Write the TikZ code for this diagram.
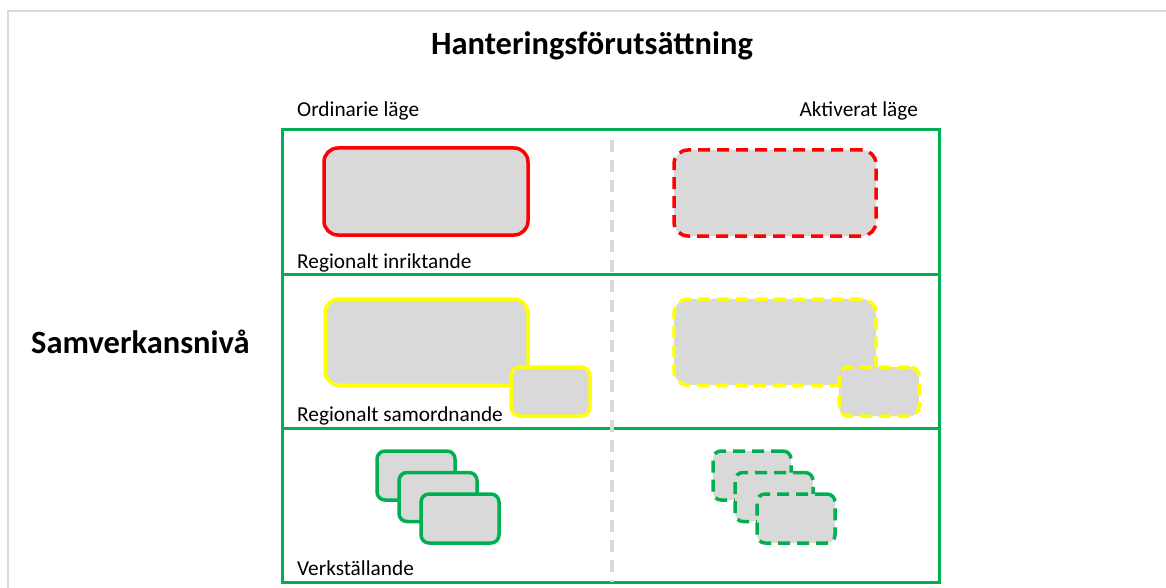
\documentclass[tikz,border=0pt]{standalone}
\usepackage{fontspec}
\setmainfont{Carlito}
\definecolor{ogreen}{HTML}{00B050}
\definecolor{ored}{HTML}{FF0000}
\definecolor{oyellow}{HTML}{FFFF00}
\definecolor{ofill}{HTML}{D9D9D9}
\definecolor{oframe}{HTML}{D9D9D9}
\tikzset{
  box/.style={draw=#1, fill=ofill, line width=3.5pt, rounded corners=14pt, inner sep=0pt},
  smallbox/.style={draw=#1, fill=ofill, line width=3.5pt, rounded corners=9pt, inner sep=0pt},
  dashbox/.style={dash pattern=on 12pt off 7pt},
  lbl/.style={anchor=base west, inner sep=0pt, font=\fontsize{21.3}{25}\selectfont},
  big/.style={inner sep=0pt, font=\fontsize{32.5}{38}\selectfont\bfseries},
  grid/.style={draw=ogreen, line width=3pt},
  divider/.style={draw=ofill, line width=4pt, dash pattern=on 12pt off 8pt}
}
\begin{document}
\begin{tikzpicture}[x=1pt,y=-1pt]
\useasboundingbox (0,0) rectangle (1166,588);
% outer frame
\draw[oframe, line width=1.5pt] (8,588) -- (8,11) -- (1166,11);
% titles
\node[big, anchor=base] (title) at (592,54.5) {Hanteringsförutsättning};
\node[big, anchor=base west] (side) at (31,353.5) {Samverkansnivå};
\node[lbl] (ord) at (297,117) {Ordinarie läge};
\node[lbl, anchor=base east] (akt) at (918,117) {Aktiverat läge};
% grid
\draw[grid] (282,130) rectangle (939,582);
\coordinate (r1l) at (282,274); \coordinate (r1r) at (939,274);
\coordinate (r2l) at (282,428); \coordinate (r2r) at (939,428);
\draw[grid] (r1l) -- (r1r);
\draw[grid] (r2l) -- (r2r);
% divider
\coordinate (dtop) at (611.5,140); \coordinate (dbot) at (611.5,582);
\draw[divider] (dtop) -- (dbot);
% row 1
\node[box=ored, minimum width=204pt, minimum height=87pt] (r1a) at (426,191.5) {};
\node[box=ored, dashbox, minimum width=202pt, minimum height=86pt] (r1b) at (775,193) {};
\node[lbl] (l1) at (297,268) {Regionalt inriktande};
% row 2
\node[box=oyellow, minimum width=203pt, minimum height=86pt] (r2a) at (426.5,342) {};
\node[smallbox=oyellow, minimum width=79pt, minimum height=49pt] (r2as) at (550.5,391.5) {};
\node[box=oyellow, dashbox, minimum width=202pt, minimum height=86pt] (r2b) at (775,342) {};
\node[smallbox=oyellow, dashbox, minimum width=80pt, minimum height=49pt] (r2bs) at (879,391.5) {};
\node[lbl] (l2) at (297,421.5) {Regionalt samordnande};
% row 3
\tikzset{gbox/.style={draw=ogreen, fill=ofill, line width=3.5pt, rounded corners=8pt, inner sep=0pt, minimum width=78pt, minimum height=49pt}}
\node[gbox] (g1) at (416,475.5) {};
\node[gbox] (g2) at (438,497) {};
\node[gbox] (g3) at (460,518.5) {};
\node[gbox, dashbox] (d1) at (752,475.5) {};
\node[gbox, dashbox] (d2) at (774,497) {};
\node[gbox, dashbox] (d3) at (796,518.5) {};
\node[lbl] (l3) at (297,575.5) {Verkställande};
\end{tikzpicture}
\end{document}
